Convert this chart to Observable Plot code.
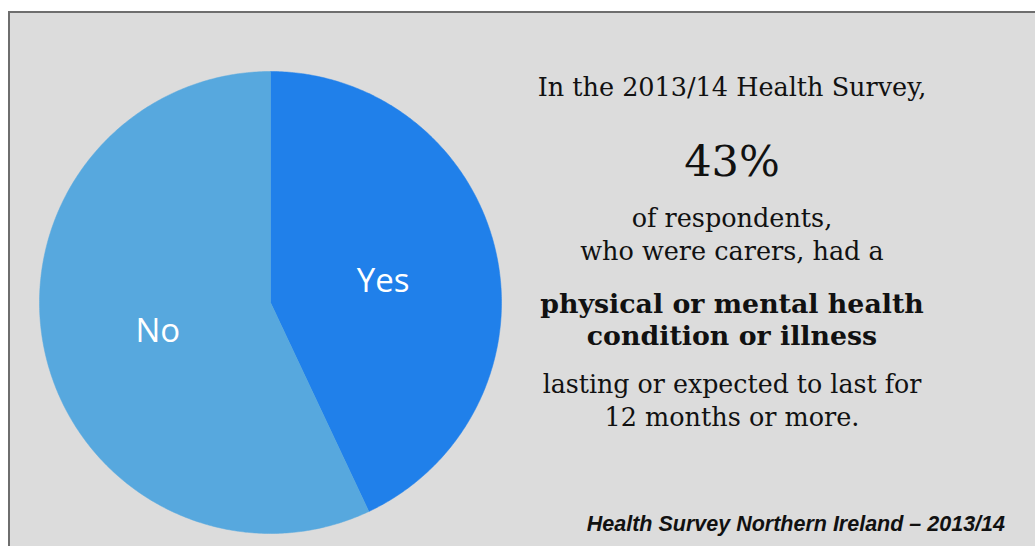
<!DOCTYPE html>
<html><head><meta charset="utf-8">
<script src="https://cdn.jsdelivr.net/npm/d3@7"></script>
<script src="https://cdn.jsdelivr.net/npm/@observablehq/plot@0.6"></script>
<style>
html,body{margin:0;padding:0;background:#fff;}
#wrap{position:relative;width:1035px;height:546px;overflow:hidden;background:#fff;}
#box{position:absolute;left:8px;top:11px;width:1100px;height:600px;background:#DCDCDC;border:2px solid #6e6e6e;box-sizing:border-box;}
#plot{position:absolute;left:0;top:0;}
#txt{position:absolute;left:0;top:0;}
</style></head>
<body>
<div id="wrap"><div id="box"></div><div id="plot"></div><svg id="txt" width="1035" height="546"></svg></div>
<script>
// Data
const categories = ["Yes", "No"];
const values = [43, 57];
const colors = ["#2080EA", "#57A8DE"];

const textLines = [
  {t: "In the 2013/14 Health Survey,", y: 96, size: 25.5, w: "normal"},
  {t: "43%", y: 176, size: 43, w: "normal"},
  {t: "of respondents,", y: 227, size: 25.5, w: "normal"},
  {t: "who were carers, had a", y: 260, size: 25.5, w: "normal"},
  {t: "physical or mental health", y: 313, size: 26.8, w: "bold"},
  {t: "condition or illness", y: 345, size: 26.8, w: "bold"},
  {t: "lasting or expected to last for", y: 393, size: 25.3, w: "normal"},
  {t: "12 months or more.", y: 426, size: 25.5, w: "normal"}
];
const caption = "Health Survey Northern Ireland – 2013/14";

// Pie geometry from data (unit circle, clockwise from top)
const arcs = d3.pie().sort(null).value(d => d.v)(categories.map((c, i) => ({c, v: values[i]})));
const pts = [];
for (const a of arcs) {
  const n = Math.max(2, Math.ceil((a.endAngle - a.startAngle) / 0.01));
  pts.push({c: a.data.c, x: 0, y: 0});
  for (let k = 0; k <= n; k++) {
    const ang = a.startAngle + (a.endAngle - a.startAngle) * k / n;
    pts.push({c: a.data.c, x: Math.sin(ang), y: Math.cos(ang)});
  }
  pts.push({c: a.data.c, x: 0, y: 0});
}
const labels = arcs.map(a => {
  const m = (a.startAngle + a.endAngle) / 2;
  return {c: a.data.c, x: 0.5 * Math.sin(m), y: 0.5 * Math.cos(m)};
});

const chart = Plot.plot({
  width: 540, height: 546,
  marginTop: 0, marginRight: 0, marginBottom: 0, marginLeft: 0,
  x: {domain: [-1, 1], range: [39, 501], axis: null},
  y: {domain: [-1, 1], range: [533, 71], axis: null},
  color: {domain: categories, range: colors},
  style: {background: "transparent", overflow: "visible"},
  marks: [
    Plot.line(pts, {x: "x", y: "y", z: "c", fill: "c", stroke: "c", strokeWidth: 0.5, curve: "linear"}),
    Plot.text(labels, {x: "x", y: "y", dy: 4, text: "c", fill: "white", fontSize: 33, fontFamily: "Open Sans, Lato, sans-serif", textAnchor: "middle", lineAnchor: "middle"})
  ]
});
document.getElementById("plot").appendChild(chart);

const svg = d3.select("#txt");
svg.selectAll("text.l").data(textLines).join("text").attr("class", "l")
  .attr("x", 732).attr("y", d => d.y)
  .attr("text-anchor", "middle")
  .attr("font-family", "DejaVu Serif, serif")
  .attr("font-size", d => d.size)
  .attr("font-weight", d => d.w)
  .attr("fill", "#111")
  .text(d => d.t);
svg.append("text").attr("x", 1005).attr("y", 531).attr("text-anchor", "end")
  .attr("font-family", "Liberation Sans, Arial, sans-serif").attr("font-size", 21.5)
  .attr("font-weight", "bold").attr("font-style", "italic").attr("fill", "#111")
  .text(caption);
</script>
</body></html>
